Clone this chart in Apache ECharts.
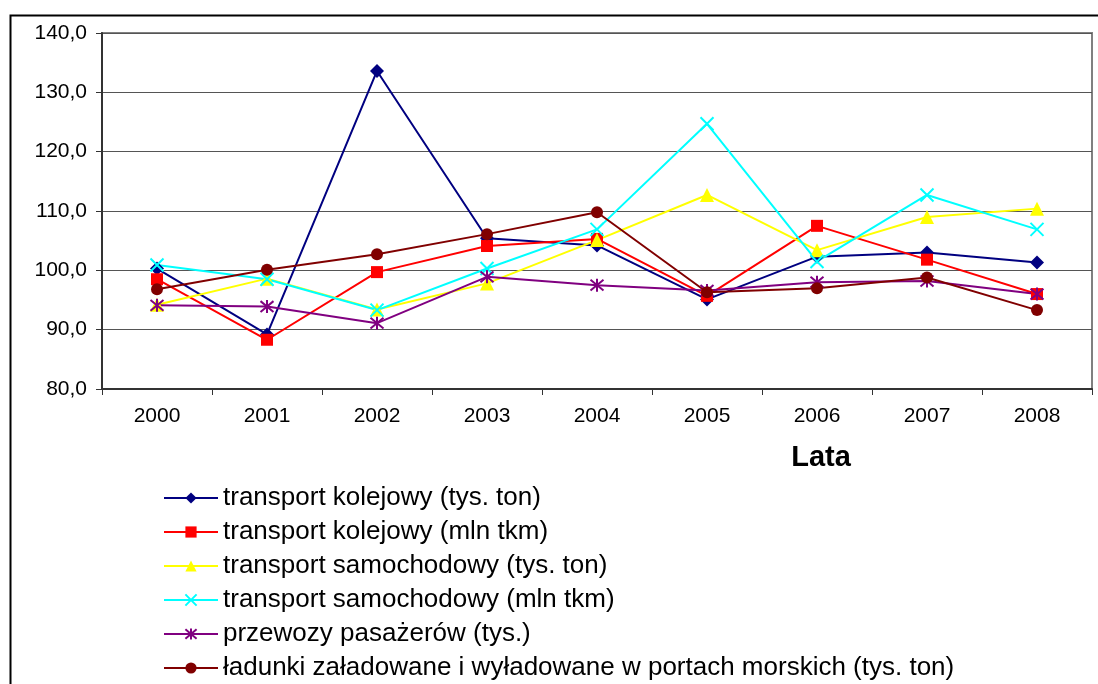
<!DOCTYPE html>
<html>
<head>
<meta charset="utf-8">
<script src="https://cdn.jsdelivr.net/npm/echarts@6/dist/echarts.min.js"></script>
<style>
html,body{margin:0;padding:0;background:#fff;}
#chart{width:1098px;height:684px;}
</style>
</head>
<body>
<div id="chart"></div>
<script>
var years = ['2000','2001','2002','2003','2004','2005','2006','2007','2008'];
var seriesNames = [
  'transport kolejowy (tys. ton)',
  'transport kolejowy (mln tkm)',
  'transport samochodowy (tys. ton)',
  'transport samochodowy (mln tkm)',
  'przewozy pasażerów (tys.)',
  'ładunki załadowane i wyładowane w portach morskich (tys. ton)'
];
var koleTon   = [100.3, 89.2, 133.6, 105.4, 104.2, 95.1, 102.3, 103.0, 101.3];
var koleTkm   = [98.5, 88.3, 99.7, 104.1, 105.3, 95.7, 107.5, 101.8, 96.0];
var samTon    = [94.2, 98.6, 93.4, 97.8, 105.1, 112.7, 103.4, 109.0, 110.4];
var samTkm    = [100.9, 98.5, 93.3, 100.3, 106.9, 124.7, 101.5, 112.7, 106.9];
var pasazer   = [94.1, 93.9, 91.1, 98.9, 97.5, 96.6, 98.0, 98.2, 96.0];
var porty     = [96.8, 100.1, 102.7, 106.1, 109.8, 96.3, 97.0, 98.8, 93.3];
var yTicks = {min: 80, max: 140, interval: 10};

var FONT = '"Liberation Sans", Arial, sans-serif';
var colors = ['#000080', '#FF0000', '#FFFF00', '#00FFFF', '#800080', '#800000'];
var symbols = [
  'diamond', 'rect', 'triangle',
  'path://M0,0L10,10M10,0L0,10',
  'path://M0,0L10,10M10,0L0,10M5,-1L5,11',
  'circle'
];
var sizes = [14, 12, 14, 13, 13, 12];
var dataSets = [koleTon, koleTkm, samTon, samTkm, pasazer, porty];

var series = dataSets.map(function (d, i) {
  var stroked = i === 3 || i === 4;
  return {
    name: seriesNames[i],
    type: 'line',
    data: d,
    symbol: symbols[i],
    symbolSize: sizes[i],
    showAllSymbol: true,
    lineStyle: {color: colors[i], width: 2},
    itemStyle: stroked ? {color: colors[i], borderColor: colors[i], borderWidth: 2} : {color: colors[i], borderWidth: 0},
    emphasis: {disabled: true},
    animation: false,
    z: 3
  };
});

var chart = echarts.init(document.getElementById('chart'), null, {renderer: 'canvas'});
chart.setOption({
  backgroundColor: '#ffffff',
  animation: false,
  textStyle: {fontFamily: FONT},
  grid: {left: 102, right: 6, top: 33, bottom: 295, show: true, borderColor: '#808080', borderWidth: 2, backgroundColor: '#ffffff'},
  xAxis: {
    type: 'category',
    data: years,
    boundaryGap: true,
    axisLine: {lineStyle: {color: '#333333', width: 2}},
    axisTick: {show: true, length: 6, lineStyle: {color: '#333333', width: 1}},
    axisLabel: {color: '#000', fontSize: 21, fontFamily: FONT, margin: 17}
  },
  yAxis: {
    type: 'value',
    min: yTicks.min, max: yTicks.max, interval: yTicks.interval,
    axisLine: {show: true, lineStyle: {color: '#333333', width: 2}},
    axisTick: {show: true, length: 6, lineStyle: {color: '#333333'}},
    axisLabel: {color: '#000', fontSize: 21, fontFamily: FONT, margin: 15,
      formatter: function (v) { return v.toFixed(1).replace('.', ','); }},
    splitLine: {show: true, lineStyle: {color: '#555555', width: 1}}
  },
  legend: {
    orient: 'vertical',
    left: 163, top: 485,
    padding: 0,
    itemWidth: 54, itemHeight: 14, itemGap: 8,
    textStyle: {color: '#000', fontSize: 26, lineHeight: 26, fontFamily: FONT},
    data: seriesNames
  },
  graphic: [
    {type: 'rect', left: 8, top: 13, shape: {x: 0, y: 0, width: 1110, height: 700},
     style: {fill: 'none', stroke: '#000', lineWidth: 2}, silent: true, z: 10},
    {type: 'text', x: 821, y: 458, style: {text: 'Lata', fill: '#000', font: 'bold 29px ' + FONT, textAlign: 'center', textVerticalAlign: 'middle'}, silent: true}
  ],
  series: series
});
</script>
</body>
</html>
